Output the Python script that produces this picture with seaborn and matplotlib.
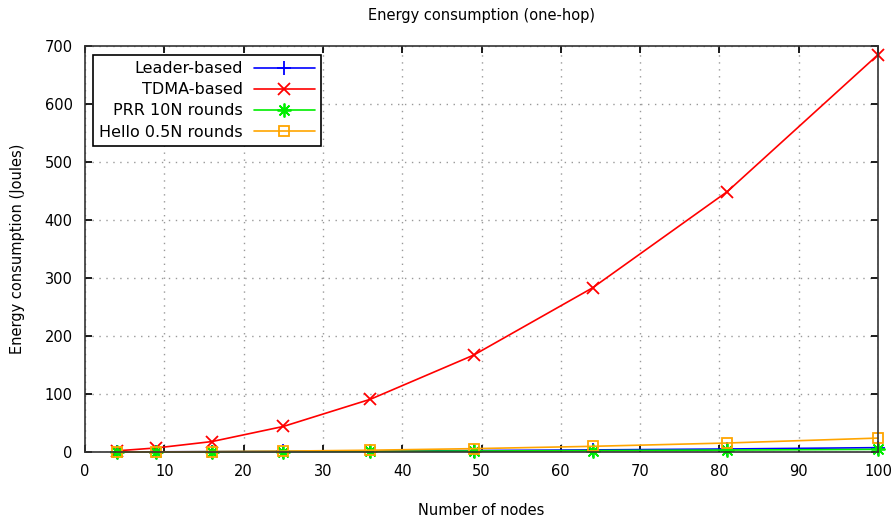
import matplotlib
matplotlib.use("Agg")
import matplotlib.pyplot as plt
import seaborn as sns
import pandas as pd

nodes = [4, 9, 16, 25, 36, 49, 64, 81, 100]
leader = [0.1, 0.3, 0.6, 1.0, 1.6, 2.5, 3.6, 5.2, 7.5]
tdma = [2, 7, 18, 44, 91, 167, 283, 449, 685]
prr = [0.05, 0.2, 0.4, 0.7, 1.1, 1.7, 2.4, 3.3, 4.5]
hello = [0.05, 0.2, 0.6, 1.5, 3.1, 5.8, 9.8, 15.5, 24]

labels = ["Leader-based", "TDMA-based", "PRR 10N rounds", "Hello 0.5N rounds"]
series = [leader, tdma, prr, hello]
colors = ["#0000ff", "#ff0000", "#00ee00", "#ffa500"]
markers = ["+", "x", (8, 2, 0), "s"]
msizes = [10, 9, 10, 7]
xticks = list(range(0, 101, 10))
yticks = list(range(0, 701, 100))

sns.set_theme(style="ticks")
plt.rcParams["font.family"] = ["DejaVu Sans"]
plt.rcParams["text.color"] = "black"
plt.rcParams["axes.labelcolor"] = "black"

fig = plt.figure(figsize=(8.96, 5.21), dpi=100)
ax = fig.add_axes([85/896, 69/521, 793/896, 406/521])

df = pd.concat([pd.DataFrame({"nodes": nodes, "energy": s, "series": l})
                for l, s in zip(labels, series)])

for l, c, m, ms in zip(labels, colors, markers, msizes):
    sub = df[df["series"] == l]
    sns.lineplot(data=sub, x="nodes", y="energy", ax=ax, color=c, marker=m,
                 markersize=ms, linewidth=1.2, markeredgewidth=1.3,
                 markerfacecolor="none", markeredgecolor=c, label=l, clip_on=False)

ax.set_xlim(0, 100)
ax.set_ylim(0, 700)
ax.set_xticks(xticks)
ax.set_yticks(yticks)
ax.grid(True, linestyle=(0, (1, 4)), color="#999999", linewidth=1)
ax.tick_params(direction="in", top=True, right=True, length=5, labelsize=10.5,
               colors="black", pad=9)
for sp in ax.spines.values():
    sp.set_color("#333333")
    sp.set_linewidth(1.2)
ax.set_xlabel("Number of nodes", fontsize=10.5, labelpad=17, color="black")
ax.set_ylabel("Energy consumption (Joules)", fontsize=10.5, labelpad=14, color="black")
ax.set_title("Energy consumption (one-hop)", fontsize=10.5, pad=19, color="black")

leg = ax.legend(loc="upper left", bbox_to_anchor=(0.01, 0.978), markerfirst=False,
                frameon=True, fancybox=False, edgecolor="black", fontsize=11.5,
                borderaxespad=0, handlelength=3.8, labelspacing=0.38,
                borderpad=0.4, framealpha=1, handletextpad=0.7)
leg.get_frame().set_linewidth(1.2)
leg._legend_box.align = "right"
for t in leg.get_texts():
    t.set_ha("right")
    t.set_color("black")

fig.savefig("out.png", dpi=100)
